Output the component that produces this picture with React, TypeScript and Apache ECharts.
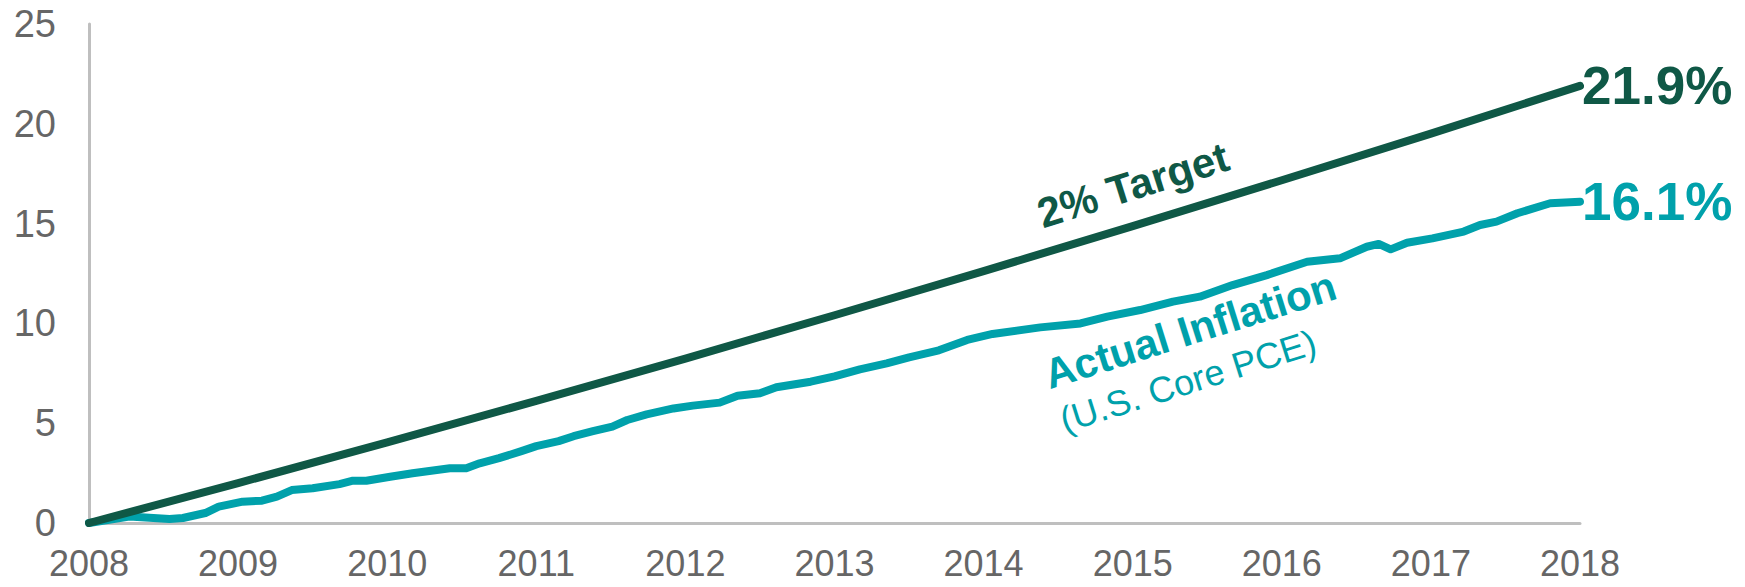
import React, { useEffect, useRef } from "react";
import * as echarts from "echarts";

// ---- data ----
const yearTicks = [2008, 2009, 2010, 2011, 2012, 2013, 2014, 2015, 2016, 2017, 2018];
const targetValues = [0, 2.0, 4.04, 6.12, 8.24, 10.41, 12.62, 14.87, 17.17, 19.51, 21.9];

const actualYears = [
  2008.0, 2008.27, 2008.54, 2008.63, 2008.78, 2008.87, 2009.03, 2009.16, 2009.26, 2009.36,
  2009.5, 2009.68, 2009.77, 2009.86, 2010.02, 2010.17, 2010.42, 2010.53, 2010.62, 2010.75,
  2010.9, 2011.0, 2011.15, 2011.25, 2011.38, 2011.51, 2011.61, 2011.74, 2011.92, 2012.05,
  2012.23, 2012.35, 2012.5, 2012.61, 2012.84, 2013.0, 2013.17, 2013.35, 2013.5, 2013.7,
  2013.89, 2014.06, 2014.38, 2014.65, 2014.83, 2015.05, 2015.27, 2015.45, 2015.67, 2015.9,
  2016.17, 2016.39, 2016.57, 2016.65, 2016.73, 2016.84, 2017.01, 2017.22, 2017.33, 2017.44,
  2017.58, 2017.8, 2018.0,
];
const actualValues = [
  0, 0.32, 0.2, 0.25, 0.5, 0.82, 1.07, 1.12, 1.32, 1.65,
  1.74, 1.95, 2.12, 2.12, 2.32, 2.49, 2.74, 2.74, 2.99, 3.25,
  3.6, 3.85, 4.1, 4.35, 4.6, 4.83, 5.16, 5.44, 5.74, 5.88,
  6.03, 6.38, 6.5, 6.8, 7.08, 7.35, 7.7, 8.0, 8.3, 8.65,
  9.17, 9.47, 9.8, 10.0, 10.34, 10.67, 11.09, 11.34, 11.92, 12.42,
  13.09, 13.26, 13.84, 13.98, 13.71, 14.04, 14.26, 14.6, 14.93, 15.1,
  15.52, 16.02, 16.1,
];

const labelTarget = "2% Target";
const labelActual = "Actual Inflation";
const labelActualSub = "(U.S. Core PCE)";

const GREEN = "#0f5846";
const TEAL = "#00a1ab";
const AXIS_GRAY = "#bfbfbf";
const TEXT_GRAY = "#666666";
const FONT = "'Liberation Sans', Arial, Helvetica, sans-serif";

export default function App() {
  const ref = useRef<HTMLDivElement>(null);

  useEffect(() => {
    if (!ref.current) return;
    const chart = echarts.init(ref.current, undefined, { renderer: "svg" });

    const targetData = yearTicks.map((y, i) => [y, targetValues[i]]);
    const actualData = actualYears.map((y, i) => [y, actualValues[i]]);

    chart.setOption({
      animation: false,
      backgroundColor: "#ffffff",
      textStyle: { fontFamily: FONT },
      grid: { left: 89, right: 165, top: 24, bottom: 64, containLabel: false },
      xAxis: {
        type: "value",
        min: 2008,
        max: 2018,
        interval: 1,
        axisLine: { show: true, lineStyle: { color: AXIS_GRAY, width: 3 } },
        axisTick: { show: false },
        splitLine: { show: false },
        axisLabel: {
          color: TEXT_GRAY,
          fontSize: 36,
          fontFamily: FONT,
          margin: 22,
          formatter: (v: number) => String(v),
        },
      },
      yAxis: {
        type: "value",
        min: 0,
        max: 25,
        interval: 5,
        axisLine: { show: true, lineStyle: { color: AXIS_GRAY, width: 3 } },
        axisTick: { show: false },
        splitLine: { show: false },
        axisLabel: { color: TEXT_GRAY, fontSize: 38, fontFamily: FONT, margin: 33 },
      },
      series: [
        {
          name: "Actual Inflation",
          type: "line",
          data: actualData,
          showSymbol: false,
          symbol: "none",
          lineStyle: { color: TEAL, width: 8, cap: "round", join: "round" },
          itemStyle: { color: TEAL },
          endLabel: {
            show: true,
            formatter: () => `${actualValues[actualValues.length - 1].toFixed(1)}%`,
            color: TEAL,
            fontSize: 53,
            fontWeight: "bold",
            fontFamily: FONT,
            distance: 2,
          },
          z: 2,
        },
        {
          name: "2% Target",
          type: "line",
          data: targetData,
          showSymbol: false,
          symbol: "none",
          lineStyle: { color: GREEN, width: 8, cap: "round", join: "round" },
          itemStyle: { color: GREEN },
          endLabel: {
            show: true,
            formatter: () => `${targetValues[targetValues.length - 1].toFixed(1)}%`,
            color: GREEN,
            fontSize: 53,
            fontWeight: "bold",
            fontFamily: FONT,
            distance: 2,
          },
          z: 3,
        },
      ],
      graphic: [
        {
          type: "text",
          x: 1133,
          y: 185,
          rotation: 0.305,
          style: {
            text: labelTarget,
            fill: GREEN,
            font: `bold 42px ${FONT}`,
            textAlign: "center",
            textVerticalAlign: "middle",
          },
        },
        {
          type: "text",
          x: 1190,
          y: 330,
          rotation: 0.305,
          style: {
            text: labelActual,
            fill: TEAL,
            font: `bold 42px ${FONT}`,
            textAlign: "center",
            textVerticalAlign: "middle",
          },
        },
        {
          type: "text",
          x: 1188,
          y: 381,
          rotation: 0.305,
          style: {
            text: labelActualSub,
            fill: TEAL,
            font: `36px ${FONT}`,
            textAlign: "center",
            textVerticalAlign: "middle",
          },
        },
      ],
    });

    return () => chart.dispose();
  }, []);

  return <div ref={ref} style={{ width: 1745, height: 587, position: "absolute", left: 0, top: 0 }} />;
}
